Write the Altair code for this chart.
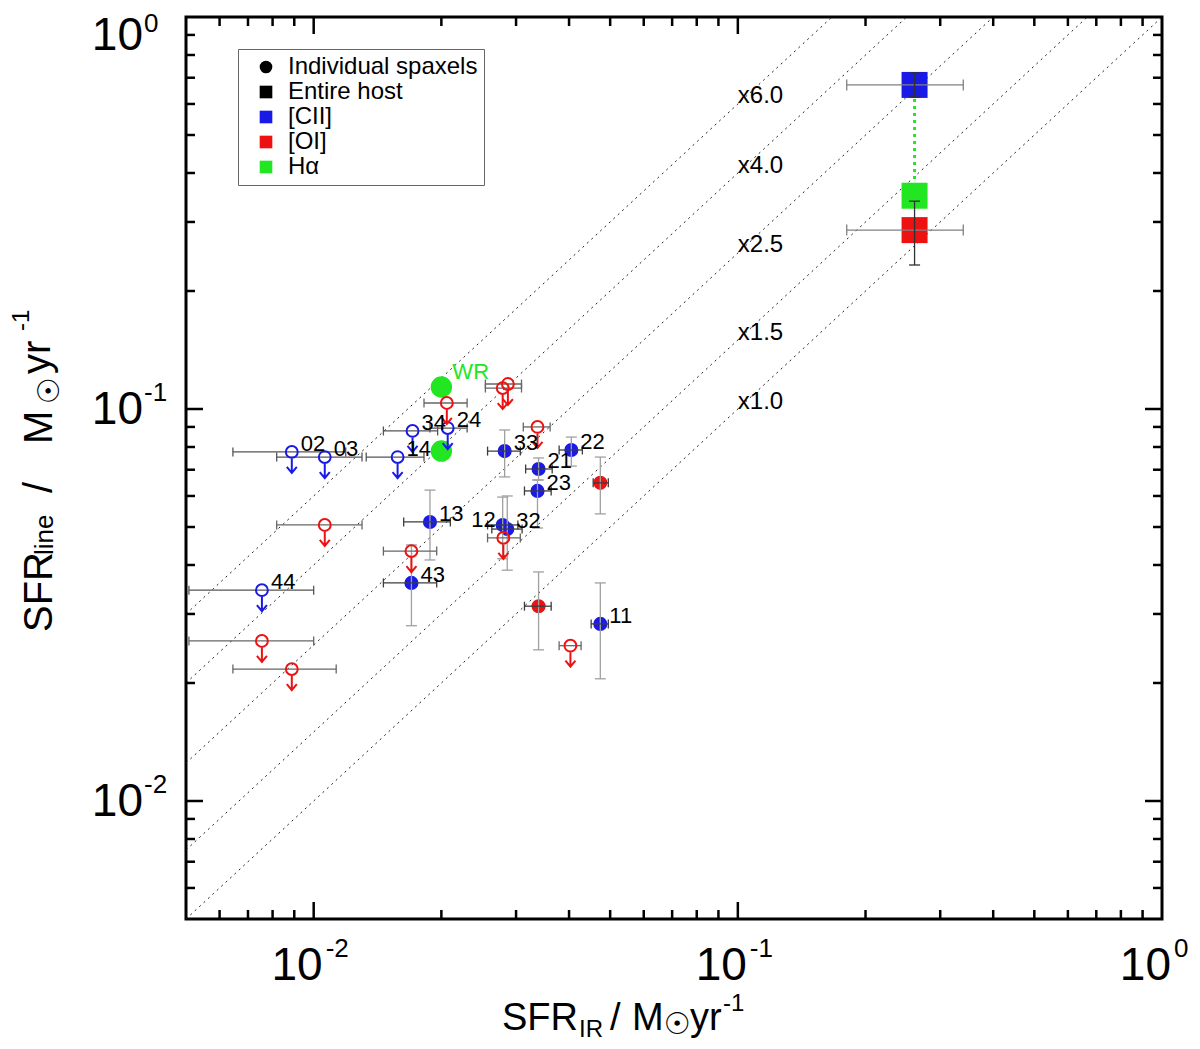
import altair as alt
import pandas as pd

# plot area in pixels (page puts its corner at 186, 17)
W, H = 976, 902
FONT = "Liberation Sans"
BLUE, RED, GREEN = "#1a1ae6", "#ee1111", "#22e622"
XBAR, YBAR = "#3c3c3c", "#a0a0a0"

# ---- individual spaxels: [CII] detections
cii_id = ["13", "43", "33", "22", "21", "23", "12", "32", "11"]
cii_ir = [0.0188, 0.0170, 0.0282, 0.0405, 0.0339, 0.0337, 0.0279, 0.0286, 0.0474]
cii_ir_lo = [0.0163, 0.0146, 0.0257, 0.0379, 0.0316, 0.0314, 0.0257, 0.0263, 0.0451]
cii_ir_hi = [0.0210, 0.0195, 0.0307, 0.0430, 0.0365, 0.0363, 0.0303, 0.0310, 0.0495]
cii_line = [0.0515, 0.0360, 0.0781, 0.0786, 0.0703, 0.0618, 0.0506, 0.0494, 0.0283]
cii_line_lo = [0.0412, 0.0280, 0.0671, 0.0715, 0.0659, 0.0497, 0.0415, 0.0388, 0.0205]
cii_line_hi = [0.0621, 0.0450, 0.0884, 0.0848, 0.0750, 0.0659, 0.0596, 0.0600, 0.0360]

# ---- individual spaxels: [OI] detections
oi_ir = [0.0474, 0.0339]
oi_ir_lo = [0.0456, 0.0314]
oi_ir_hi = [0.0495, 0.0363]
oi_line = [0.0648, 0.0314]
oi_line_lo = [0.0540, 0.0243]
oi_line_hi = [0.0754, 0.0384]

# ---- [CII] upper limits
ciilim_id = ["02", "03", "14", "34", "24", "44"]
ciilim_ir = [0.00888, 0.01062, 0.01577, 0.0171, 0.0207, 0.00755]
ciilim_ir_lo = [0.00645, 0.00818, 0.0133, 0.0146, 0.0188, 0.00508]
ciilim_ir_hi = [0.0119, 0.0130, 0.0182, 0.0196, 0.0230, 0.0100]
ciilim_line = [0.0777, 0.0754, 0.0754, 0.0879, 0.0894, 0.0345]

# ---- [OI] upper limits
oilim_ir = [0.0206, 0.01062, 0.0170, 0.00755, 0.00888, 0.0279, 0.0287, 0.0337, 0.0280, 0.0403]
oilim_ir_lo = [0.0182, 0.00818, 0.0146, 0.00508, 0.00645, 0.0254, 0.0254, 0.0312, 0.0257, 0.0379]
oilim_ir_hi = [0.0230, 0.0130, 0.0195, 0.0100, 0.0113, 0.0309, 0.0309, 0.0361, 0.0307, 0.0427]
oilim_line = [0.1036, 0.0506, 0.0434, 0.0256, 0.0217, 0.1131, 0.1158, 0.0900, 0.0469, 0.0249]

# ---- H-alpha spaxels
ha_id = ["WR", ""]
ha_ir = [0.0200, 0.0200]
ha_line = [0.1138, 0.0781]

# ---- entire host
host_ir = [0.261]
host_ir_lo = [0.1806]
host_ir_hi = [0.340]
host_cii = [0.671]
host_cii_lo = [0.625]
host_cii_hi = [0.720]
host_oi = [0.286]
host_oi_lo = [0.233]
host_oi_hi = [0.339]
host_ha = [0.350]

# ---- ratio lines SFR_line = k * SFR_IR
ratios = [1.0, 1.5, 2.5, 4.0, 6.0]
ratio_text = ["x1.0", "x1.5", "x2.5", "x4.0", "x6.0"]
ratio_text_x = [0.1, 0.1, 0.1, 0.1, 0.1]
ratio_text_y = [0.1041, 0.156, 0.262, 0.417, 0.629]

leg_entries = ["Individual spaxels", "Entire host", "[CII]", "[OI]", "Hα"]
leg_colors = ["black", "black", BLUE, RED, GREEN]
leg_shapes = ["circle", "square", "square", "square", "square"]

minor_ticks = [0.006, 0.007, 0.008, 0.009, 0.02, 0.03, 0.04, 0.05, 0.06, 0.07,
               0.08, 0.09, 0.2, 0.3, 0.4, 0.5, 0.6, 0.7, 0.8, 0.9]
major_ticks = [0.01, 0.1]
label_ticks = [0.01, 0.1, 1.0]
label_exp = ["-2", "-1", "0"]

XS = alt.Scale(type="log", domain=[0.005, 1.0], nice=False)
YS = alt.Scale(type="log", domain=[0.005, 1.0], nice=False)
ARROW = "M0,0.65L0,2.1M-0.5,1.5L0,2.1L0.5,1.5"


def X(field):
    return alt.X(field, type="quantitative", scale=XS, axis=None)


def Y(field):
    return alt.Y(field, type="quantitative", scale=YS, axis=None)


def xbars(df, y, color, cap=9, width=1.3):
    b = alt.Chart(df)
    return [
        b.mark_rule(color=color, strokeWidth=width).encode(x=X("ir_lo"), x2=alt.X2("ir_hi"), y=Y(y)),
        b.mark_tick(orient="vertical", color=color, size=cap, thickness=width, opacity=1).encode(x=X("ir_lo"), y=Y(y)),
        b.mark_tick(orient="vertical", color=color, size=cap, thickness=width, opacity=1).encode(x=X("ir_hi"), y=Y(y)),
    ]


def ybars(df, lo, hi, color, cap=11, width=1.3):
    b = alt.Chart(df)
    return [
        b.mark_rule(color=color, strokeWidth=width).encode(x=X("ir"), y=Y(lo), y2=alt.Y2(hi)),
        b.mark_tick(orient="horizontal", color=color, size=cap, thickness=width, opacity=1).encode(x=X("ir"), y=Y(lo)),
        b.mark_tick(orient="horizontal", color=color, size=cap, thickness=width, opacity=1).encode(x=X("ir"), y=Y(hi)),
    ]


def edge_ticks(values, length):
    b = alt.Chart(pd.DataFrame({"v": values}))
    style = dict(color="black", strokeWidth=2.5)
    return [
        b.mark_rule(**style).encode(x=X("v"), y=alt.value(H), y2=alt.value(H - length)),
        b.mark_rule(**style).encode(x=X("v"), y=alt.value(0), y2=alt.value(length)),
        b.mark_rule(**style).encode(y=Y("v"), x=alt.value(0), x2=alt.value(length)),
        b.mark_rule(**style).encode(y=Y("v"), x=alt.value(W), x2=alt.value(W - length)),
    ]


one = pd.DataFrame({"t": [0]})


def piece(txt, px, py, size, angle=0, font=FONT, align="left", baseline="alphabetic"):
    return alt.Chart(one).mark_text(
        text=txt, align=align, baseline=baseline, fontSize=size,
        font=font, angle=angle, color="black",
    ).encode(x=alt.value(px), y=alt.value(py))


cii = pd.DataFrame({"id": cii_id, "ir": cii_ir, "ir_lo": cii_ir_lo, "ir_hi": cii_ir_hi,
                    "line": cii_line, "line_lo": cii_line_lo, "line_hi": cii_line_hi})
oi = pd.DataFrame({"ir": oi_ir, "ir_lo": oi_ir_lo, "ir_hi": oi_ir_hi,
                   "line": oi_line, "line_lo": oi_line_lo, "line_hi": oi_line_hi})
ciilim = pd.DataFrame({"id": ciilim_id, "ir": ciilim_ir, "ir_lo": ciilim_ir_lo,
                       "ir_hi": ciilim_ir_hi, "line": ciilim_line})
oilim = pd.DataFrame({"ir": oilim_ir, "ir_lo": oilim_ir_lo, "ir_hi": oilim_ir_hi, "line": oilim_line})
ha = pd.DataFrame({"id": ha_id, "ir": ha_ir, "line": ha_line})
host = pd.DataFrame({"ir": host_ir, "ir_lo": host_ir_lo, "ir_hi": host_ir_hi,
                     "cii": host_cii, "cii_lo": host_cii_lo, "cii_hi": host_cii_hi,
                     "oi": host_oi, "oi_lo": host_oi_lo, "oi_hi": host_oi_hi, "ha": host_ha})
diag = pd.DataFrame([{"k": k, "x": x, "y": k * x} for k in ratios for x in (0.005, 1.0 / k)])
ratio_df = pd.DataFrame({"t": ratio_text, "x": ratio_text_x, "y": ratio_text_y})
labels = pd.concat([cii[["id", "ir", "line"]], ciilim[["id", "ir", "line"]]])
leg_df = pd.DataFrame({"entry": leg_entries, "x": [0.001] * 5, "y": [0.001] * 5})
ticklab = pd.DataFrame({"v": label_ticks, "base": ["10"] * 3, "exp": label_exp})

layers = []

# dotted ratio lines and their labels
layers.append(alt.Chart(diag).mark_line(color="#222222", strokeWidth=1, strokeDash=[2, 4], clip=True)
              .encode(x=X("x"), y=Y("y"), detail="k:N"))
layers.append(alt.Chart(ratio_df).mark_text(align="left", baseline="middle", font=FONT, fontSize=24, color="black")
              .encode(x=X("x"), y=Y("y"), text="t:N"))

# legend (driven by an off-screen layer)
LEG = alt.Legend(title=None, orient="none", legendX=52, legendY=32, strokeColor="#666666",
                 fillColor="white", padding=6, symbolOffset=10, symbolSize=160,
                 labelFont=FONT, labelFontSize=24, labelColor="black", labelOffset=10,
                 rowPadding=1, labelLimit=0)
layers.append(alt.Chart(leg_df).mark_point(filled=True, opacity=1, clip=True).encode(
    x=X("x"), y=Y("y"),
    color=alt.Color("entry:N", scale=alt.Scale(domain=leg_entries, range=leg_colors), legend=LEG),
    shape=alt.Shape("entry:N", scale=alt.Scale(domain=leg_entries, range=leg_shapes), legend=LEG),
))

# entire host: connector, squares, error bars
layers.append(alt.Chart(host).mark_rule(color=GREEN, strokeWidth=3, strokeDash=[3, 4])
              .encode(x=X("ir"), y=Y("cii"), y2=alt.Y2("ha")))
for col, colr in [("cii", BLUE), ("ha", GREEN), ("oi", RED)]:
    layers.append(alt.Chart(host).mark_point(shape="square", filled=True, size=676, opacity=1, color=colr)
                  .encode(x=X("ir"), y=Y(col)))
layers += xbars(host, "cii", "#808080", cap=11)
layers += xbars(host, "oi", "#808080", cap=11)
layers += ybars(host, "cii_lo", "cii_hi", "#303030")
layers += ybars(host, "oi_lo", "oi_hi", "#303030")

# spaxels
layers.append(alt.Chart(ha).mark_circle(size=460, opacity=1, color=GREEN).encode(x=X("ir"), y=Y("line")))
layers.append(alt.Chart(cii).mark_circle(size=200, opacity=1, color=BLUE).encode(x=X("ir"), y=Y("line")))
layers.append(alt.Chart(oi).mark_circle(size=200, opacity=1, color=RED).encode(x=X("ir"), y=Y("line")))
layers += ybars(cii, "line_lo", "line_hi", YBAR)
layers += ybars(oi, "line_lo", "line_hi", YBAR)
layers += xbars(cii, "line", XBAR)
layers += xbars(oi, "line", XBAR)
layers += xbars(ciilim, "line", "#555555")
layers += xbars(oilim, "line", "#666666")
for df, colr in [(ciilim, BLUE), (oilim, RED)]:
    layers.append(alt.Chart(df).mark_point(shape="circle", filled=False, size=140, strokeWidth=2,
                                           opacity=1, color=colr).encode(x=X("ir"), y=Y("line")))
    layers.append(alt.Chart(df).mark_point(shape=ARROW, filled=False, size=400, strokeWidth=2,
                                           opacity=1, color=colr).encode(x=X("ir"), y=Y("line")))

# spaxel labels
layers.append(alt.Chart(labels[labels["id"] != "12"]).mark_text(
    align="left", baseline="middle", dx=9, dy=-8, font=FONT, fontSize=22, color="black"
).encode(x=X("ir"), y=Y("line"), text="id:N"))
layers.append(alt.Chart(labels[labels["id"] == "12"]).mark_text(
    align="right", baseline="middle", dx=-7, dy=-5, font=FONT, fontSize=22, color="black"
).encode(x=X("ir"), y=Y("line"), text="id:N"))
layers.append(alt.Chart(ha[ha["id"] == "WR"]).mark_text(
    align="left", baseline="middle", dx=11, dy=-15, font=FONT, fontSize=22, color=GREEN
).encode(x=X("ir"), y=Y("line"), text="id:N"))

# inward ticks on all four sides
layers += edge_ticks(major_ticks, 17)
layers += edge_ticks(minor_ticks, 9)

# tick labels 10^n, placed through the scales
tl = alt.Chart(ticklab)
big = dict(font=FONT, fontSize=46, color="black", baseline="alphabetic")
small = dict(font=FONT, fontSize=26, color="black", baseline="alphabetic")
layers += [
    tl.mark_text(align="right", dx=9, **big).encode(x=X("v"), y=alt.value(963), text="base:N"),
    tl.mark_text(align="left", dx=12, **small).encode(x=X("v"), y=alt.value(940), text="exp:N"),
]
tl_low = alt.Chart(ticklab[ticklab["v"] < 0.5])
tl_top = alt.Chart(ticklab[ticklab["v"] >= 0.5])
layers += [
    tl_low.mark_text(align="right", dy=15, **big).encode(x=alt.value(-43), y=Y("v"), text="base:N"),
    tl_low.mark_text(align="left", dy=-8, **small).encode(x=alt.value(-42), y=Y("v"), text="exp:N"),
    tl_top.mark_text(align="right", dy=33, **big).encode(x=alt.value(-43), y=Y("v"), text="base:N"),
    tl_top.mark_text(align="left", dy=15, **small).encode(x=alt.value(-42), y=Y("v"), text="exp:N"),
]

# axis titles with sub/superscripts
layers += [
    piece("SFR", 316, 1013, 38), piece("IR", 393, 1020, 24), piece("/", 424, 1013, 38),
    piece("M", 446, 1013, 38),
    piece("☉", 491, 1008, 30, font="DejaVu Sans", align="center", baseline="middle"),
    piece("yr", 504, 1013, 38), piece("-1", 537, 994, 24),
    piece("SFR", -134, 615, 40, 270), piece("line", -133, 538, 26, 270),
    piece("/", -134, 476, 40, 270), piece("M", -134, 427, 40, 270),
    piece("☉", -136, 374, 30, 270, font="DejaVu Sans", align="center", baseline="middle"),
    piece("yr", -136, 357, 40, 270), piece("-1", -157, 314, 24, 270),
]

chart = alt.layer(*layers).properties(
    width=W, height=H,
    background="white",
    autosize=alt.AutoSizeParams(type="none"),
    padding={"left": 178, "top": 9, "right": 30, "bottom": 122},
).configure_view(stroke="black", strokeWidth=3)

chart.save("out.html", embed_options={"renderer": "svg", "actions": False})
